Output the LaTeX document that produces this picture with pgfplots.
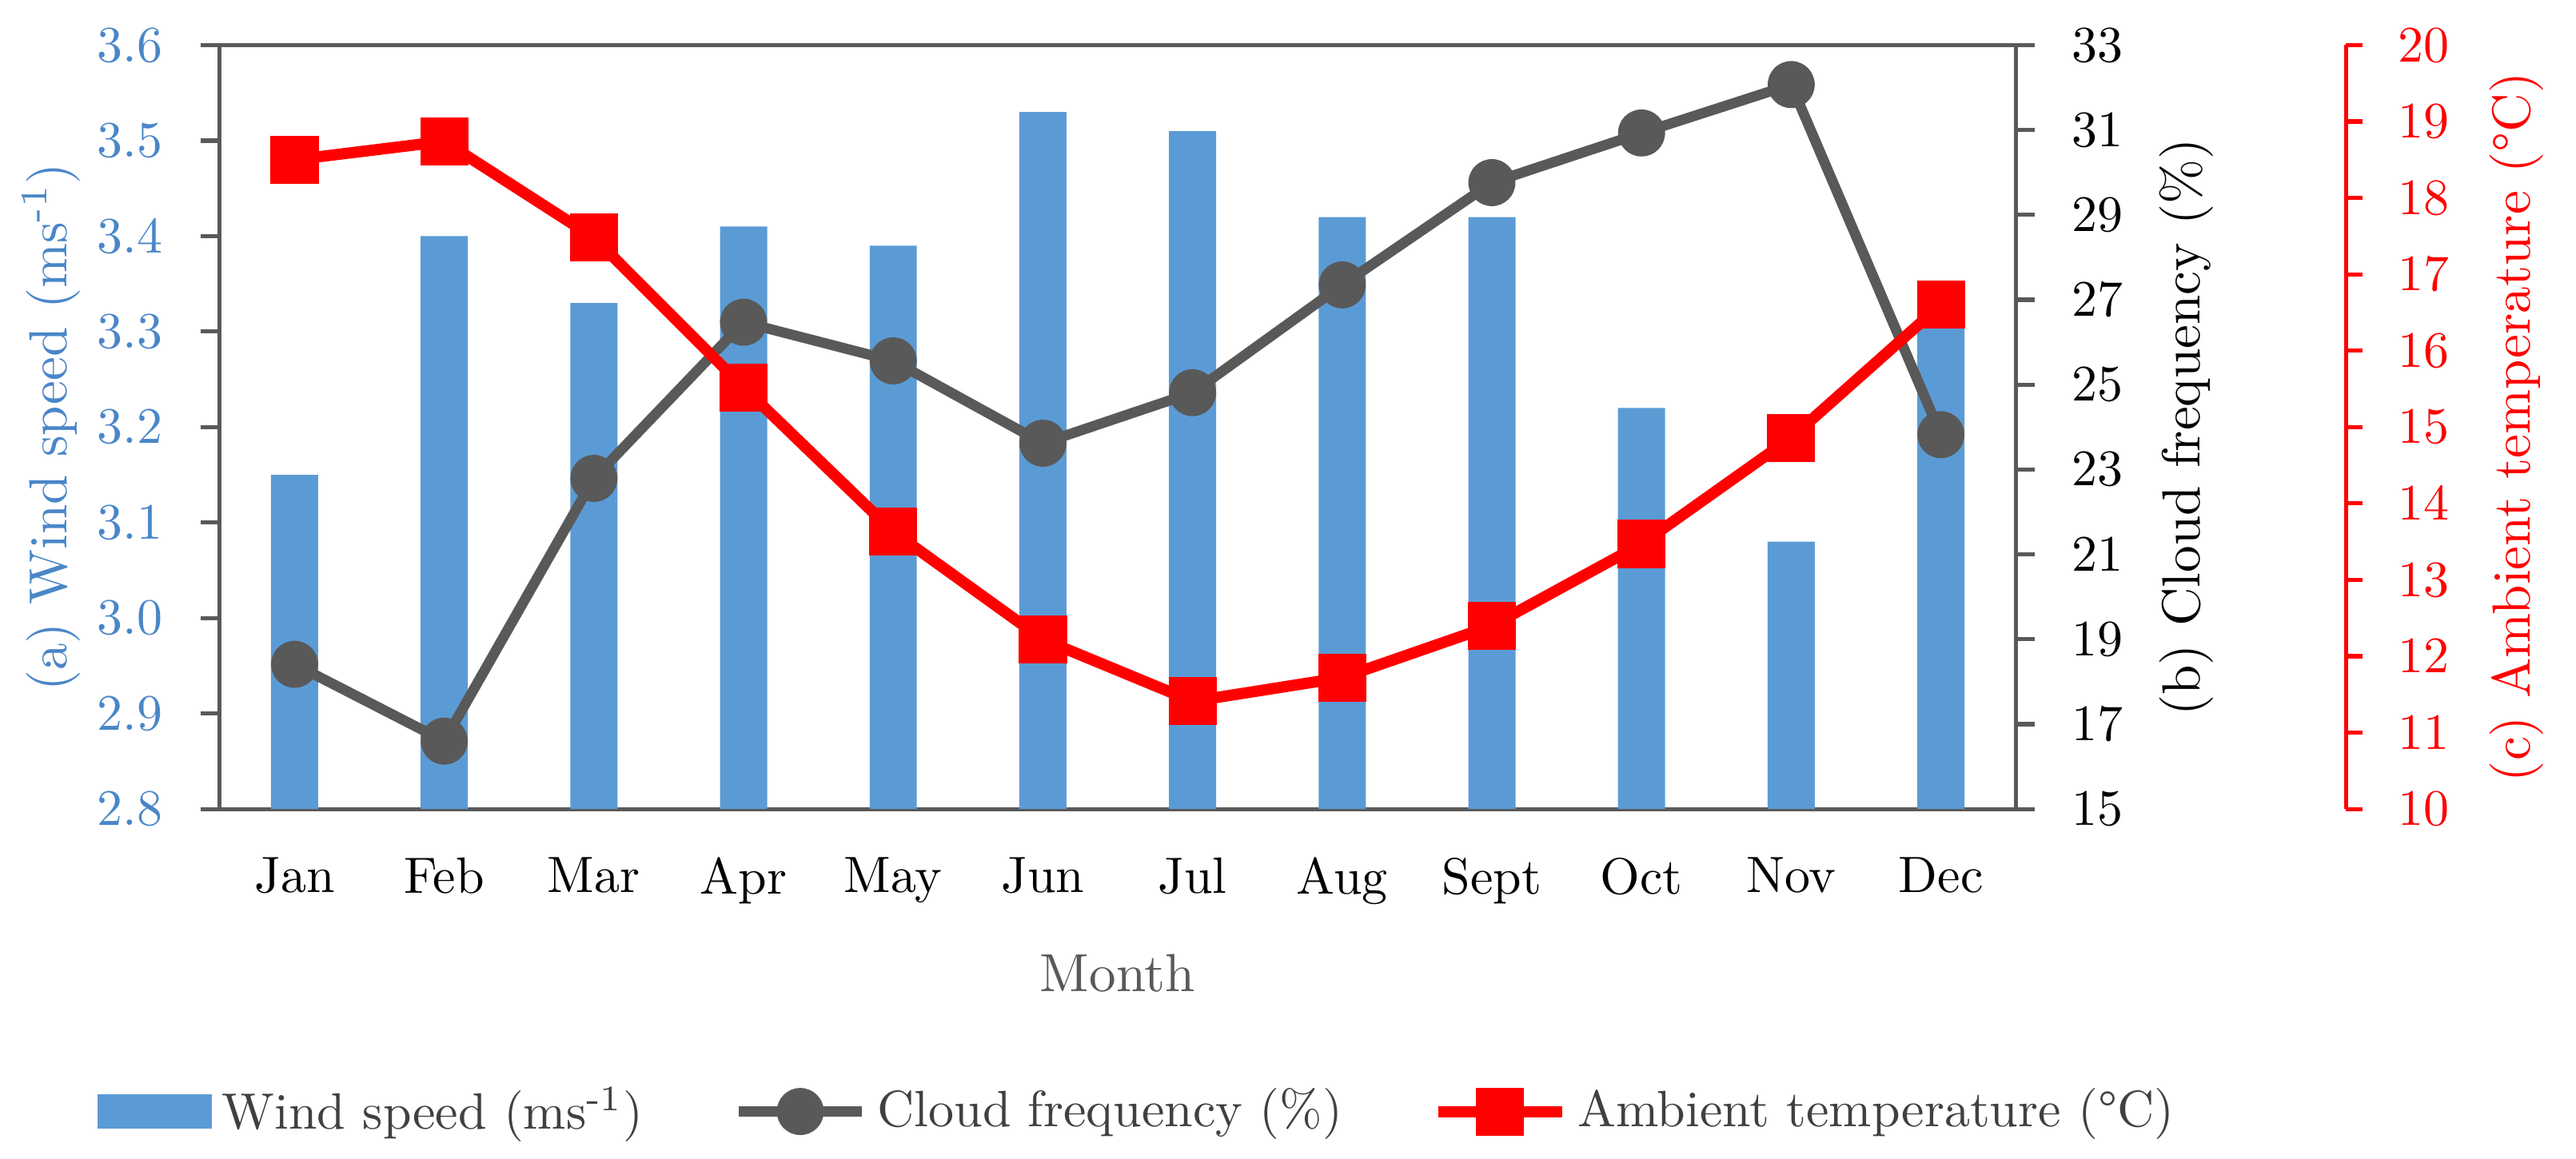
\documentclass[border=0pt]{standalone}
\usepackage{pgfplots}
\usepackage{pgfplotstable}
\pgfplotsset{compat=1.18}

\definecolor{barblue}{HTML}{5B9BD5}
\definecolor{txtblue}{HTML}{4A86C8}
\definecolor{cloudgrey}{HTML}{595959}
\definecolor{axgrey}{HTML}{595959}
\definecolor{legtext}{HTML}{404040}

% month index, wind speed (ms-1), cloud frequency (%), ambient temperature (C)
\pgfplotstableread{
m  wind  cloud  temp
0  3.15  18.41  18.50
1  3.40  16.60  18.74
2  3.33  22.79  17.48
3  3.41  26.47  15.52
4  3.39  25.56  13.63
5  3.53  23.62  12.22
6  3.51  24.81  11.41
7  3.42  27.35  11.72
8  3.42  29.76  12.40
9  3.22  30.93  13.47
10 3.08  32.07  14.86
11 3.31  23.82  16.60
}\monthly

\pgfplotsset{
  base/.style={
    scale only axis, width=12.34cm, height=5.25cm,
    xmin=-0.5, xmax=11.5,
    tick label style={font=\fontsize{10}{12}\selectfont},
    label style={font=\fontsize{10.5}{12}\selectfont},
  },
}

\begin{document}
\begin{tikzpicture}
\path[use as bounding box] (-1.51,-2.40) rectangle (16.19,5.56);

% (a) wind speed bars, left axis
\begin{axis}[base,
  ymin=2.8, ymax=3.6,
  ytick={2.8,2.9,3.0,3.1,3.2,3.3,3.4,3.5,3.6},
  y tick label style={/pgf/number format/fixed, /pgf/number format/fixed zerofill,
    /pgf/number format/precision=1, txtblue, xshift=-0.14cm},
  x tick label style={yshift=-0.08cm},
  ytick pos=left, tick align=outside, major tick length=0.13cm,
  xtick={0,...,11},
  xticklabels={Jan,Feb,Mar,Apr,May,Jun,Jul,Aug,Sept,Oct,Nov,Dec},
  x tick style={draw=none},
  y tick style={axgrey, line width=0.8pt},
  axis line style={axgrey, line width=0.8pt},
  ylabel={(a) Wind speed (ms\textsuperscript{-1})},
  ylabel style={txtblue, at={(axis description cs:-0.094,0.5)}, anchor=center},
  xlabel={Month},
  xlabel style={axgrey, at={(axis description cs:0.5,-0.2145)}, anchor=center},
  ybar, bar width=0.324cm,
]
\addplot[fill=barblue, draw=none] table[x=m, y=wind] {\monthly};
\end{axis}

% (b) cloud frequency, right axis
\begin{axis}[base,
  ymin=15, ymax=33, ytick={15,17,...,33},
  axis y line*=right, hide x axis,
  tick align=outside, major tick length=0.13cm,
  y tick label style={xshift=0.13cm},
  y axis line style={axgrey, line width=0.8pt, -},
  y tick style={axgrey, line width=0.8pt},
  ylabel={(b) Cloud frequency (\%)},
  ylabel style={at={(axis description cs:1.095,0.5)}, anchor=center},
  clip=false,
]
\addplot[cloudgrey, line width=2pt, mark=*, mark size=4.4pt, mark options={line width=0.4pt}]
  table[x=m, y=cloud] {\monthly};
\end{axis}

% (c) ambient temperature data + legend
\begin{axis}[base,
  ymin=10, ymax=20, hide axis, clip=false,
  legend style={at={(axis description cs:0.513,-0.396)}, anchor=center, draw=none,
    legend columns=3, font=\fontsize{10}{12}\selectfont, text=legtext,
    /tikz/every even column/.append style={column sep=0.55cm}},
  legend image code/.code={
    \draw[mark repeat=2, mark phase=2, #1] plot coordinates {(0cm,0cm) (0.425cm,0cm) (0.85cm,0cm)};},
]
\addlegendimage{legend image code/.code={\fill[barblue] (0cm,-0.11cm) rectangle (0.77cm,0.11cm);}}
\addlegendentry{Wind speed (ms\textsuperscript{-1})}
\addlegendimage{cloudgrey, line width=2pt, mark=*, mark size=4.4pt, mark options={line width=0.4pt}}
\addlegendentry{Cloud frequency (\%)}
\addplot[red, line width=2.2pt, mark=square*, mark size=4.5pt, mark options={line width=0.4pt}]
  table[x=m, y=temp] {\monthly};
\addlegendentry{Ambient temperature (\textdegree C)}
\end{axis}

% (c) red scale, offset to the right
\begin{axis}[scale only axis, width=1cm, height=5.25cm,
  at={(14.61cm,0cm)}, anchor=south east,
  xmin=0, xmax=1, ymin=10, ymax=20, ytick={10,...,20},
  hide x axis, axis y line*=right,
  y axis line style={red, line width=0.8pt, -},
  y tick style={red, line width=0.8pt},
  tick align=outside, major tick length=0.115cm,
  tick label style={font=\fontsize{10}{12}\selectfont},
  yticklabel style={red, xshift=0.12cm},
  ylabel={(c) Ambient temperature (\textdegree C)},
  ylabel style={red, font=\fontsize{10.5}{12}\selectfont, at={(rel axis cs:2.17,0.5)}, anchor=center},
]
\end{axis}
\end{tikzpicture}
\end{document}
